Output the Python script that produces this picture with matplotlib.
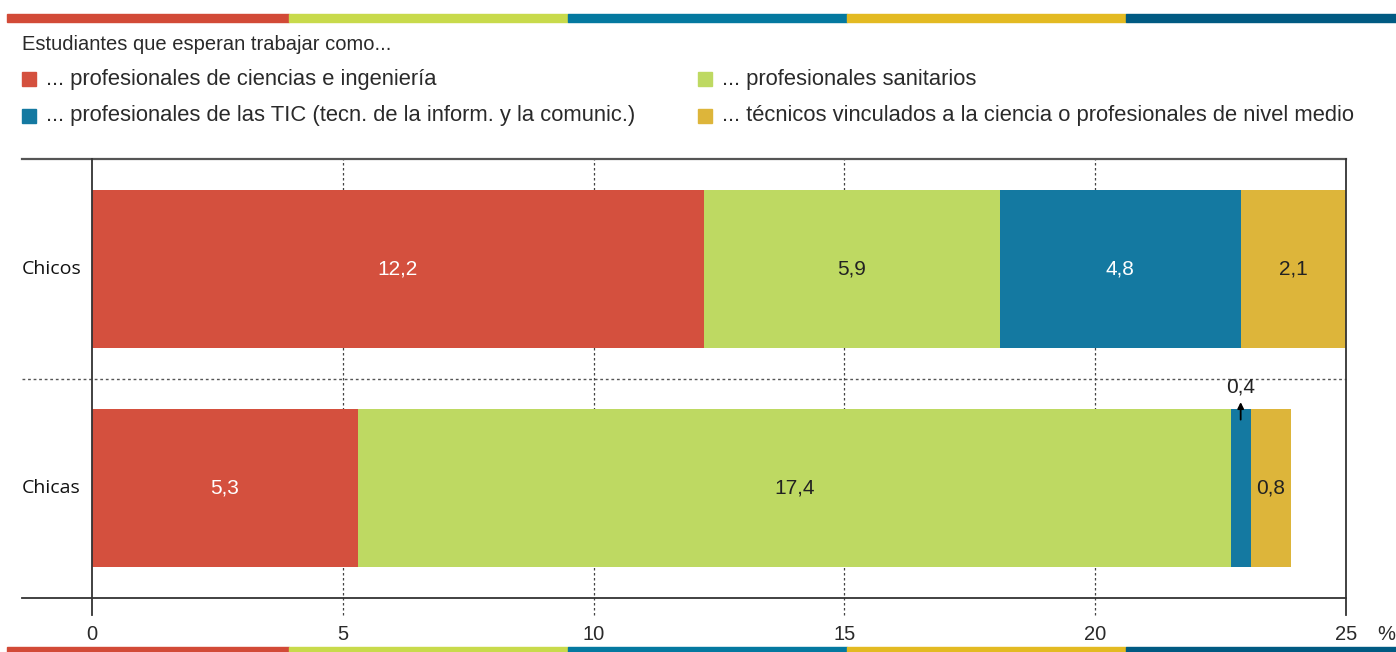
import matplotlib
matplotlib.use("Agg")
import matplotlib.pyplot as plt
from matplotlib.patches import Rectangle
from matplotlib.lines import Line2D

# ---- data ----
categories = ["Chicos", "Chicas"]
series_names = [
    "... profesionales de ciencias e ingeniería",
    "... profesionales sanitarios",
    "... profesionales de las TIC (tecn. de la inform. y la comunic.)",
    "... técnicos vinculados a la ciencia o profesionales de nivel medio",
]
ciencias = [12.2, 5.3]
sanitarios = [5.9, 17.4]
tic = [4.8, 0.4]
tecnicos = [2.1, 0.8]
value_labels = [["12,2", "5,3"], ["5,9", "17,4"], ["4,8", "0,4"], ["2,1", "0,8"]]
xticks = [0, 5, 10, 15, 20, 25]
title = "Estudiantes que esperan trabajar como..."

colors = ["#D4503E", "#BED962", "#1479A1", "#DDB53A"]
label_colors = ["white", "#222222", "white", "#222222"]
stripe_colors = ["#D24A37", "#C8DA4B", "#0479A0", "#E3BA22", "#005A82"]

FONT = "Liberation Sans"
W, H = 1396, 652
fig = plt.figure(figsize=(W / 100, H / 100), dpi=100)

def fx(px):
    return px / W

def fy(py):
    return 1 - py / H

# stripes top and bottom
edges = [7, 289, 568, 847, 1126, 1396]
for i, c in enumerate(stripe_colors):
    fig.patches.append(Rectangle((fx(edges[i]), fy(22)), fx(edges[i + 1] - edges[i]), 8 / H,
                                 transform=fig.transFigure, color=c, zorder=0))
    fig.patches.append(Rectangle((fx(edges[i]), fy(652)), fx(edges[i + 1] - edges[i]), 5 / H,
                                 transform=fig.transFigure, color=c, zorder=0))

# title and legend
fig.text(fx(22), fy(45), title, fontsize=14.5, family=FONT, color="#2a2a2a", va="center", ha="left")
leg_pos = [(22, 79), (698, 79), (22, 116), (698, 116)]
for (x, y), name, c in zip(leg_pos, series_names, colors):
    fig.patches.append(Rectangle((fx(x), fy(y + 7)), fx(14), 14 / H, transform=fig.transFigure, color=c))
    fig.text(fx(x + 24), fy(y), name, fontsize=15.8, family=FONT, color="#2a2a2a", va="center", ha="left")

# axes
ax = fig.add_axes([fx(92), fy(598), fx(1346 - 92), (598 - 159) / H])
ax.set_xlim(0, 25)
ax.set_ylim(1.5, -0.5)
for s in ax.spines.values():
    s.set_visible(False)
ax.set_yticks([])
ax.set_xticks([])

ypos = list(range(len(categories)))
series = [ciencias, sanitarios, tic, tecnicos]
left = [0.0] * len(categories)
bh = 0.72
for si, vals in enumerate(series):
    ax.barh(ypos, vals, left=left, height=bh, color=colors[si], edgecolor="none", zorder=3)
    for ci, v in enumerate(vals):
        cx = left[ci] + v / 2
        if v >= 0.6:
            ax.text(cx, ypos[ci], value_labels[si][ci], ha="center", va="center", fontsize=15,
                    family=FONT, color=label_colors[si], zorder=5)
        else:
            top = ypos[ci] - bh / 2
            ax.annotate("", xy=(cx, top - 0.045), xytext=(cx, top + 0.06),
                        arrowprops=dict(arrowstyle="-|>", color="black", lw=1.3, mutation_scale=9),
                        zorder=6, annotation_clip=False)
            ax.text(cx, top - 0.1, value_labels[si][ci], ha="center", va="center", fontsize=15,
                    family=FONT, color="#222222", zorder=5)
    left = [l + v for l, v in zip(left, vals)]

# horizontal lines (extend left)
yt = ax.get_yaxis_transform()
x0 = (22 - 92) / (1346 - 92)
ax.add_line(Line2D([x0, 1], [-0.5, -0.5], transform=yt, color="#555555", lw=1.6, clip_on=False, zorder=4))
ax.add_line(Line2D([x0, 1], [1.5, 1.5], transform=yt, color="#333333", lw=1.3, clip_on=False, zorder=4))
ax.add_line(Line2D([x0, 1], [0.5, 0.5], transform=yt, color="#555555", lw=1.0, ls=(0, (2, 2)),
                   clip_on=False, zorder=2))

# vertical lines
xt = ax.get_xaxis_transform()
yb = -(615 - 598) / (598 - 159)
ylab = -(634 - 598) / (598 - 159)
for t in xticks:
    if t in (xticks[0], xticks[-1]):
        ax.add_line(Line2D([t, t], [yb, 1], transform=xt, color="#333333", lw=1.3, clip_on=False, zorder=4))
    else:
        ax.add_line(Line2D([t, t], [yb, 1], transform=xt, color="#444444", lw=0.9, ls=(0, (2, 2)),
                           clip_on=False, zorder=2))
    ax.text(t, ylab, str(t), transform=xt, ha="center", va="center",
            fontsize=14.5, family=FONT, color="#2a2a2a")
ax.text(1 + (1377 - 1346) / (1346 - 92), ylab, "%", transform=ax.transAxes, ha="left", va="center",
        fontsize=14.5, family=FONT, color="#2a2a2a")

# category labels
for ci, name in enumerate(categories):
    ax.text(x0, ypos[ci], name, transform=yt, ha="left", va="center", fontsize=14,
            family="Open Sans", color="#111111")

fig.savefig("out.png", dpi=100)
